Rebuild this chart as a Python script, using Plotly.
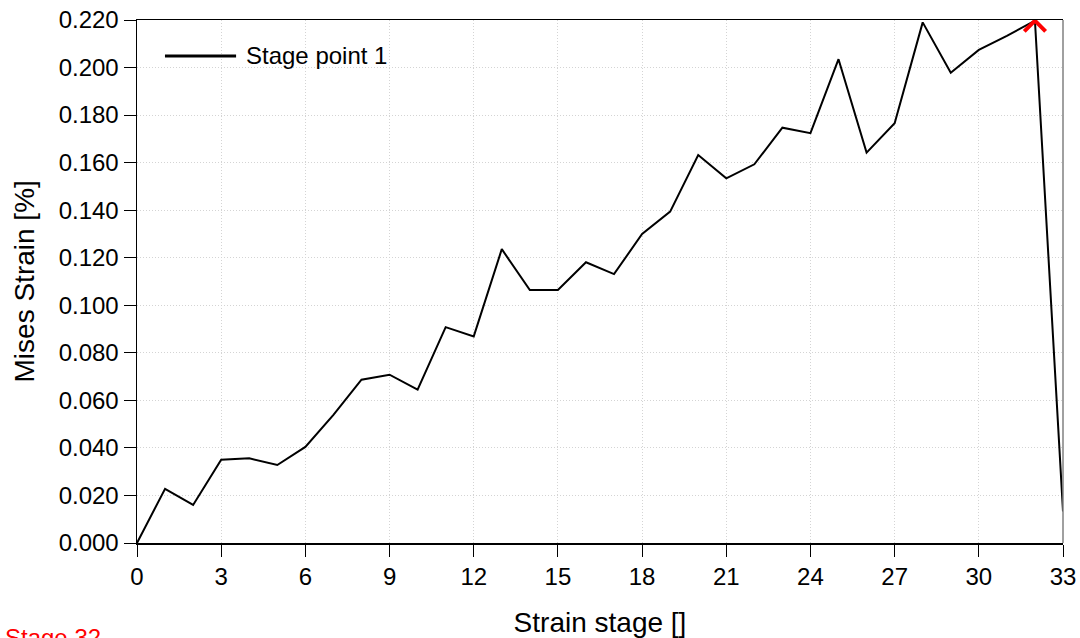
import plotly.graph_objects as go

stages = list(range(0, 34))
mises_strain = [0.000, 0.0228, 0.0160, 0.0350, 0.0356, 0.0328, 0.0404, 0.0539, 0.0687, 0.0708,
                0.0645, 0.0908, 0.0869, 0.1236, 0.1064, 0.1064, 0.1181, 0.1131, 0.1300, 0.1394,
                0.1632, 0.1534, 0.1593, 0.1747, 0.1724, 0.2035, 0.1642, 0.1766, 0.2190, 0.1978,
                0.2074, 0.2133, 0.2197, 0.0133]
x_ticks = list(range(0, 34, 3))
y_ticks = [0.000, 0.020, 0.040, 0.060, 0.080, 0.100, 0.120, 0.140, 0.160, 0.180, 0.200, 0.220]
series_name = "Stage point 1"
selected_stage = 32

FONT = "Liberation Sans, Arial, sans-serif"
GRID = "#d4d4d4"

fig = go.Figure()
fig.add_trace(go.Scatter(x=stages, y=mises_strain, mode="lines",
                         line=dict(color="black", width=2), name=series_name,
                         showlegend=False, cliponaxis=False))

# red caret marker at the selected stage
sy = mises_strain[selected_stage]
fig.add_trace(go.Scatter(x=[selected_stage - 0.38, selected_stage, selected_stage + 0.38],
                         y=[sy - 0.0045, sy, sy - 0.0045], mode="lines",
                         line=dict(color="#ff0000", width=4), showlegend=False,
                         cliponaxis=False, hoverinfo="skip"))

fig.update_layout(
    width=1080, height=638,
    margin=dict(l=137, r=17, t=20, b=95),
    paper_bgcolor="white", plot_bgcolor="white",
    font=dict(family=FONT, color="black", size=24),
    xaxis=dict(range=[0, 33], tickvals=x_ticks, ticks="outside", ticklen=12,
               tickcolor="black", showline=True, linecolor="black", linewidth=1.5,
               mirror=True, showgrid=True, gridcolor=GRID, griddash="1px,2px",
               zeroline=False, tickfont=dict(size=24), automargin=False,
               ticklabeloverflow="allow",
               title=dict(text="Strain stage []", font=dict(size=28), standoff=26)),
    yaxis=dict(range=[0, 0.22], tickvals=y_ticks, tickformat=".3f", ticks="outside",
               ticklen=12, tickcolor="black", showline=True, linecolor="black",
               linewidth=1.5, showgrid=True, gridcolor=GRID, griddash="1px,2px",
               zeroline=False, tickfont=dict(size=24), automargin=False,
               ticklabeloverflow="allow"),
    showlegend=False,
)

# y axis title
fig.add_annotation(text="Mises Strain [%]", xref="paper", yref="paper", x=-0.121, y=0.5,
                   xanchor="center", yanchor="middle", textangle=-90, showarrow=False,
                   font=dict(size=28, color="black", family=FONT))

# right border (gray)
fig.add_shape(type="line", xref="paper", yref="paper", x0=1, x1=1, y0=0, y1=1,
              line=dict(color="#808080", width=1.5))

# manual legend
fig.add_shape(type="line", xref="paper", yref="paper", x0=0.0302, x1=0.107,
              y0=0.9312, y1=0.9312, line=dict(color="black", width=3))
fig.add_annotation(text=series_name, xref="paper", yref="paper", x=0.116, y=0.9312,
                   xanchor="left", yanchor="middle", showarrow=False,
                   font=dict(size=24, color="black", family=FONT))

# stage label (partially below the page edge, as in the original)
fig.add_annotation(text="Stage " + str(selected_stage), xref="paper", yref="paper",
                   x=-0.145, y=-0.151, xanchor="left", yanchor="top", showarrow=False,
                   font=dict(size=24, color="#ff0000", family=FONT))

fig.write_html("out.html", config={"displayModeBar": False, "staticPlot": True},
               post_script="document.body.style.margin='0';document.body.style.overflow='hidden';")
